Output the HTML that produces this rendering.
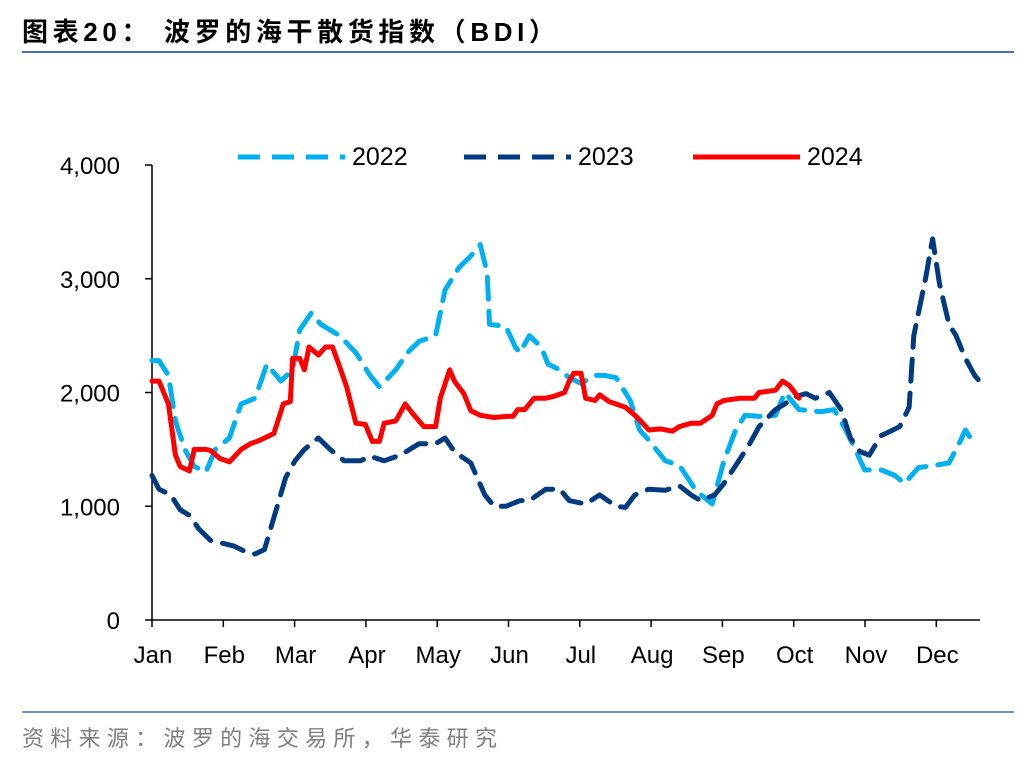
<!DOCTYPE html>
<html><head><meta charset="utf-8"><style>
body{margin:0;background:#fff;width:1036px;height:760px;overflow:hidden;font-family:"Liberation Sans","Noto Sans CJK SC",sans-serif;}
svg text{font-family:"Liberation Sans","Noto Sans CJK SC",sans-serif;}
</style></head><body>
<svg id="c" width="1036" height="760" xmlns="http://www.w3.org/2000/svg">
<text x="22" y="41" font-size="26" font-weight="bold" fill="#000" textLength="533" lengthAdjust="spacing">图表20：  波罗的海干散货指数（BDI）</text>
<line x1="22" y1="52" x2="1014" y2="52" stroke="#4a6fb5" stroke-width="2"/>
<line x1="22" y1="712" x2="1014" y2="712" stroke="#4a6fb5" stroke-width="1.5"/>
<text x="22" y="746" font-size="22" fill="#7f7f7f" textLength="475" lengthAdjust="spacing">资料来源：波罗的海交易所，华泰研究</text>
<g id="axes"></g><g id="series"></g><g id="legend"></g>
</svg>
<script>
const months=["Jan","Feb","Mar","Apr","May","Jun","Jul","Aug","Sep","Oct","Nov","Dec"];
const yTicks=[0,1000,2000,3000,4000];
const yTickLabels=["0","1,000","2,000","3,000","4,000"];
const seriesNames=["2022","2023","2024"];
const days2022=[0,3,7,10,14,18,23,27,33,38,44,49,55,60,63,68,72,80,87,93,97,104,109,114,121,125,131,136,140,143,144,151,155,157,161,166,169,174,178,183,189,193,198,204,208,212,219,225,232,239,244,249,253,259,266,270,276,281,285,291,296,300,304,311,317,321,327,334,340,345,347,351];
const vals2022=[2280,2280,2150,1750,1500,1350,1300,1500,1600,1900,1950,2250,2100,2200,2550,2700,2600,2500,2350,2150,2050,2200,2350,2450,2500,2900,3100,3200,3300,3050,2600,2580,2400,2350,2500,2400,2250,2200,2130,2080,2150,2150,2130,1930,1670,1580,1400,1360,1140,1020,1400,1670,1800,1790,1800,2000,1850,1840,1830,1850,1670,1500,1320,1320,1270,1200,1340,1360,1380,1580,1670,1540];
const days2023=[0,3,8,12,16,20,25,29,35,40,44,48,52,57,61,65,71,76,82,89,93,99,106,110,114,121,125,129,136,142,146,151,157,161,168,174,178,185,191,198,202,206,212,219,225,230,234,240,244,251,255,259,266,270,274,279,283,289,294,298,302,306,311,315,319,323,325,330,333,336,340,343,347,351,353];
const vals2023=[1270,1150,1100,970,920,800,700,680,650,600,580,620,900,1250,1400,1500,1600,1500,1400,1400,1440,1400,1450,1500,1550,1550,1600,1480,1380,1100,1000,1000,1050,1050,1150,1150,1050,1020,1100,1000,990,1100,1150,1140,1180,1100,1050,1100,1200,1420,1550,1700,1850,1900,1960,1990,1950,2000,1850,1600,1480,1450,1620,1660,1700,1870,2500,3000,3350,2950,2600,2500,2300,2150,2100];
const days2024=[0,3,7,10,12,16,18,23,25,29,33,38,42,46,50,52,56,59,60,63,65,67,71,74,77,80,83,87,91,94,97,99,104,108,111,116,121,123,127,129,133,136,140,146,151,154,156,159,163,168,172,176,178,180,183,185,189,191,195,202,206,208,212,217,222,225,230,234,239,241,244,251,257,259,266,269,272,276];
const vals2024=[2100,2100,1900,1450,1350,1310,1500,1500,1490,1420,1390,1500,1550,1580,1620,1640,1900,1920,2300,2300,2200,2400,2330,2400,2400,2230,2050,1730,1720,1570,1570,1730,1750,1900,1820,1700,1700,1950,2200,2100,1990,1840,1800,1780,1790,1790,1850,1850,1950,1950,1970,2000,2100,2170,2170,1950,1930,1980,1920,1870,1800,1760,1670,1680,1660,1700,1730,1730,1800,1900,1930,1950,1950,2000,2020,2100,2060,1950];
const X0=152,X1=980,Y0=620,PXD=2.344,PXV=0.11375;
const xs=d=>X0+d*PXD, ys=v=>Y0-v*PXV, mx=m=>X0+m*71.3;
const NS="http://www.w3.org/2000/svg";
function mk(tag,attrs,parent){const e=document.createElementNS(NS,tag);for(const k in attrs)e.setAttribute(k,attrs[k]);parent.appendChild(e);return e;}
const ax=document.getElementById('axes');
let e=mk('line',{x1:X0,y1:ys(4000),x2:X0,y2:Y0,stroke:'#000','stroke-width':1.5},ax);


e=mk('line',{x1:X0,y1:Y0,x2:X1,y2:Y0,stroke:'#000','stroke-width':1.5},ax);


yTicks.forEach((v,i)=>{
  let t=mk('line',{x1:X0-7,y1:ys(v),x2:X0,y2:ys(v),stroke:'#000','stroke-width':1.5},ax);
  
  
  let l=mk('text',{x:120,y:ys(v)+9,'font-size':24,'text-anchor':'end',fill:'#000'},ax);
  l.textContent=yTickLabels[i];
  
  
});
months.forEach((m,i)=>{
  let t=mk('line',{x1:mx(i),y1:Y0,x2:mx(i),y2:Y0+7,stroke:'#000','stroke-width':1.5},ax);
  
  
  let l=mk('text',{x:mx(i)+1,y:663,'font-size':24,'text-anchor':'middle',fill:'#000'},ax);
  l.textContent=m;
  
  
});
const sg=document.getElementById('series');
const styles=[{c:'#00b0f0',d:'22 12'},{c:'#003a80',d:'22 12'},{c:'#ff0000',d:'none'}];
[[days2022,vals2022],[days2023,vals2023],[days2024,vals2024]].forEach((s,i)=>{
  const pts=s[0].map((d,j)=>xs(d).toFixed(1)+','+ys(s[1][j]).toFixed(1)).join(' ');
  let p=mk('polyline',{points:pts,fill:'none',stroke:styles[i].c,'stroke-width':5,'stroke-dasharray':styles[i].d,'stroke-linejoin':'round','stroke-linecap':'round'},sg);
  
  
});
const lg=document.getElementById('legend');
const lx=[238,464,693];
seriesNames.forEach((n,i)=>{
  let l=mk('line',{x1:lx[i],y1:157,x2:lx[i]+107,y2:157,stroke:styles[i].c,'stroke-width':5,'stroke-dasharray':styles[i].d},lg);
  
  
  let t=mk('text',{x:lx[i]+114,y:165,'font-size':25,fill:'#000'},lg);
  t.textContent=n;
  
  
});
</script>
</body></html>
